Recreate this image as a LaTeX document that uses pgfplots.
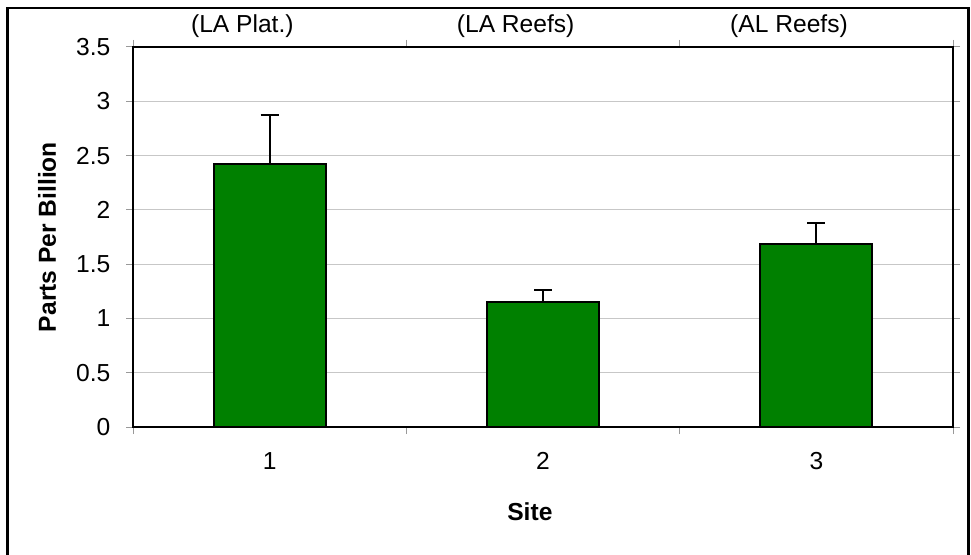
\documentclass[border=0pt]{standalone}
\usepackage{pgfplots}
\pgfplotsset{compat=1.18}
\usepackage{fontspec}
\setmainfont{Liberation Sans}
\definecolor{bargreen}{RGB}{0,128,0}
\begin{document}
\fontsize{12.3bp}{14bp}\selectfont
\begin{tikzpicture}[x=1bp,y=1bp]
\useasboundingbox (0,0) rectangle (485.5,277);
\draw[line width=1.3bp] (3.75,-5) -- (3.75,273) -- (484.25,273) -- (484.25,-5);
\begin{axis}[
  at={(66.5bp,63.5bp)}, anchor=south west, scale only axis,
  width=410bp, height=190bp,
  xmin=0.5, xmax=3.5, ymin=0, ymax=3.5,
  xtick={1,2,3}, xticklabels={1,2,3},
  major x tick style={draw=none},
  minor xtick={0.5,1.5,2.5,3.5},
  ytick={0,0.5,1,1.5,2,2.5,3,3.5},
  yticklabels={0,0.5,1,1.5,2,2.5,3,3.5},
  ymajorgrids, grid style={black!22, line width=0.6bp},
  tick align=outside, major tick length=3.5bp, minor tick length=3.5bp,
  tick style={black!40, line width=0.5bp},
  every tick label/.append style={font=\fontsize{12.3bp}{14bp}\selectfont},
  yticklabel style={xshift=-3.5bp},
  xticklabel style={yshift=-5bp},
  axis line style={black, line width=1bp},
  xlabel={\bfseries Site},
  xlabel style={at={(rel axis cs:0.484,0)}, anchor=base, yshift=-46.5bp, font=\fontsize{12.3bp}{14bp}\selectfont},
  ylabel={\bfseries Parts Per Billion},
  ylabel style={at={(rel axis cs:0,0.5)}, anchor=center, yshift=43bp, font=\fontsize{12.3bp}{14bp}\selectfont},
  clip=false,
]
\addplot[ybar, bar width=0.41, fill=bargreen, draw=black, line width=1bp,
  error bars/.cd, y dir=plus, y explicit,
  error bar style={black, line width=1bp},
  error mark options={rotate=90, black, line width=1bp, mark size=4.5bp}]
  coordinates {(1,2.42) +- (0,0.45) (2,1.15) +- (0,0.11) (3,1.69) +- (0,0.19)};
\node[anchor=base, yshift=7bp] at (axis cs:0.9,3.5) {(LA Plat.)};
\node[anchor=base, yshift=7bp] at (axis cs:1.9,3.5) {(LA Reefs)};
\node[anchor=base, yshift=7bp] at (axis cs:2.9,3.5) {(AL Reefs)};
\end{axis}
\end{tikzpicture}
\end{document}
